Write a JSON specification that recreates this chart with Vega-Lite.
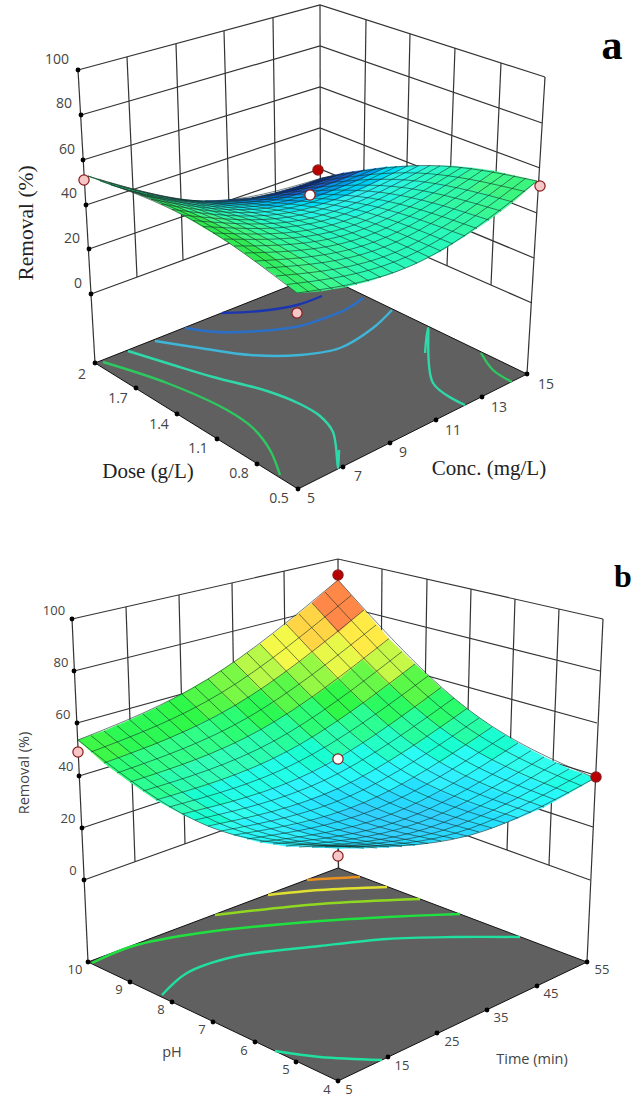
{"$schema":"https://vega.github.io/schema/vega-lite/v6.json","width":639,"height":1101,"padding":0,"autosize":"none","background":"white","config":{"view":{"stroke":null}},"resolve":{"scale":{"fill":"independent","stroke":"independent"}},
"datasets":{
"walls":[
{"l":"a0","x":78,"y":70},{"l":"a0","x":320,"y":5},{"l":"a0","x":545,"y":77},
{"l":"a1","x":81,"y":115},{"l":"a1","x":320,"y":46},{"l":"a1","x":542,"y":123},
{"l":"a2","x":83,"y":160},{"l":"a2","x":320,"y":87},{"l":"a2","x":540,"y":168},
{"l":"a3","x":86,"y":205},{"l":"a3","x":320,"y":128},{"l":"a3","x":537,"y":213},
{"l":"a4","x":89,"y":249},{"l":"a4","x":320,"y":169},{"l":"a4","x":534,"y":258},
{"l":"a5","x":91,"y":294},{"l":"a5","x":320,"y":210},{"l":"a5","x":532,"y":303},
{"l":"a6","x":78,"y":70},{"l":"a6","x":95,"y":363},
{"l":"a7","x":545,"y":77},{"l":"a7","x":527,"y":374},
{"l":"a8","x":320,"y":5},{"l":"a8","x":320.5,"y":274},
{"l":"a9","x":127,"y":57},{"l":"a9","x":137,"y":277},
{"l":"a10","x":176,"y":44},{"l":"a10","x":183,"y":260},
{"l":"a11","x":224,"y":31},{"l":"a11","x":230,"y":243},
{"l":"a12","x":273,"y":18},{"l":"a12","x":276,"y":226},
{"l":"a13","x":366,"y":20},{"l":"a13","x":363,"y":229},
{"l":"a14","x":410,"y":34},{"l":"a14","x":405,"y":247},
{"l":"a15","x":455,"y":48},{"l":"a15","x":447,"y":266},
{"l":"a16","x":501,"y":63},{"l":"a16","x":491,"y":285},
{"l":"b0","x":72,"y":619},{"l":"b0","x":338,"y":559},{"l":"b0","x":603,"y":619},
{"l":"b1","x":74,"y":671},{"l":"b1","x":338,"y":605},{"l":"b1","x":600,"y":671},
{"l":"b2","x":77,"y":723},{"l":"b2","x":338,"y":651},{"l":"b2","x":597,"y":723},
{"l":"b3","x":79,"y":776},{"l":"b3","x":338,"y":697},{"l":"b3","x":595,"y":775},
{"l":"b4","x":82,"y":828},{"l":"b4","x":338,"y":743},{"l":"b4","x":593,"y":827},
{"l":"b5","x":84,"y":880},{"l":"b5","x":338,"y":789},{"l":"b5","x":590,"y":880},
{"l":"b6","x":72,"y":619},{"l":"b6","x":88,"y":962},
{"l":"b7","x":603,"y":619},{"l":"b7","x":587,"y":962},
{"l":"b8","x":338,"y":559},{"l":"b8","x":338.5,"y":868},
{"l":"b9","x":126,"y":607},{"l":"b9","x":135,"y":862},
{"l":"b10","x":179,"y":595},{"l":"b10","x":185,"y":844},
{"l":"b11","x":232,"y":583},{"l":"b11","x":236,"y":826},
{"l":"b12","x":284,"y":571},{"l":"b12","x":287,"y":807},
{"l":"b13","x":382,"y":569},{"l":"b13","x":380,"y":804},
{"l":"b14","x":427,"y":579},{"l":"b14","x":423,"y":820},
{"l":"b15","x":471,"y":589},{"l":"b15","x":465,"y":835},
{"l":"b16","x":515,"y":599},{"l":"b16","x":507,"y":850},
{"l":"b17","x":559,"y":609},{"l":"b17","x":549,"y":865},
{"l":"s1","x":297,"y":293},{"l":"s1","x":297.5,"y":313},
{"l":"s2","x":338,"y":848},{"l":"s2","x":338.5,"y":868},
{"l":"s3","x":338,"y":759},{"l":"s3","x":338.5,"y":790}
],
"contours":[
{"l":"a1","c":"k1","x":222,"y":313},{"l":"a1","c":"k1","x":260,"y":311},{"l":"a1","c":"k1","x":297,"y":305},{"l":"a1","c":"k1","x":322,"y":296},
{"l":"a2","c":"k2","x":185,"y":328},{"l":"a2","c":"k2","x":217,"y":332},{"l":"a2","c":"k2","x":260,"y":331},{"l":"a2","c":"k2","x":300,"y":326},{"l":"a2","c":"k2","x":325,"y":318},{"l":"a2","c":"k2","x":347,"y":309},{"l":"a2","c":"k2","x":363,"y":298},
{"l":"a3","c":"k3","x":155,"y":341},{"l":"a3","c":"k3","x":200,"y":348},{"l":"a3","c":"k3","x":250,"y":355},{"l":"a3","c":"k3","x":300,"y":355},{"l":"a3","c":"k3","x":340,"y":348},{"l":"a3","c":"k3","x":373,"y":328},{"l":"a3","c":"k3","x":392,"y":310},
{"l":"a4","c":"k4","x":128,"y":351},{"l":"a4","c":"k4","x":170,"y":364},{"l":"a4","c":"k4","x":213,"y":377},{"l":"a4","c":"k4","x":267,"y":391},{"l":"a4","c":"k4","x":300,"y":404},{"l":"a4","c":"k4","x":320,"y":416},{"l":"a4","c":"k4","x":333,"y":432},{"l":"a4","c":"k4","x":339,"y":450},{"l":"a4","c":"k4","x":338,"y":468},
{"l":"a5","c":"k4","x":428,"y":328},{"l":"a5","c":"k4","x":425,"y":353},{"l":"a5","c":"k4","x":433,"y":383},{"l":"a5","c":"k4","x":465,"y":405},
{"l":"a6","c":"k5","x":103,"y":362},{"l":"a6","c":"k5","x":167,"y":383},{"l":"a6","c":"k5","x":227,"y":410},{"l":"a6","c":"k5","x":253,"y":428},{"l":"a6","c":"k5","x":270,"y":450},{"l":"a6","c":"k5","x":280,"y":475},
{"l":"a7","c":"k5","x":481,"y":353},{"l":"a7","c":"k5","x":493,"y":370},{"l":"a7","c":"k5","x":512,"y":382},
{"l":"b1","c":"k6","x":307,"y":880},{"l":"b1","c":"k6","x":320,"y":879},{"l":"b1","c":"k6","x":360,"y":877},
{"l":"b2","c":"k7","x":268,"y":895},{"l":"b2","c":"k7","x":320,"y":890},{"l":"b2","c":"k7","x":387,"y":887},
{"l":"b3","c":"k8","x":215,"y":915},{"l":"b3","c":"k8","x":320,"y":904},{"l":"b3","c":"k8","x":420,"y":899},
{"l":"b4","c":"k9","x":92,"y":963},{"l":"b4","c":"k9","x":133,"y":946},{"l":"b4","c":"k9","x":200,"y":933},{"l":"b4","c":"k9","x":320,"y":921},{"l":"b4","c":"k9","x":387,"y":917},{"l":"b4","c":"k9","x":460,"y":914},
{"l":"b5","c":"k10","x":162,"y":995},{"l":"b5","c":"k10","x":187,"y":973},{"l":"b5","c":"k10","x":233,"y":957},{"l":"b5","c":"k10","x":320,"y":946},{"l":"b5","c":"k10","x":387,"y":939},{"l":"b5","c":"k10","x":453,"y":937},{"l":"b5","c":"k10","x":520,"y":937},
{"l":"b6","c":"k10","x":275,"y":1051},{"l":"b6","c":"k10","x":320,"y":1057},{"l":"b6","c":"k10","x":382,"y":1060}
],
"grid":[
{"l":"p0","x":297,"y":293},{"l":"p0","x":193,"y":220.5},{"l":"p0","x":88,"y":176},
{"l":"p1","x":309,"y":292},{"l":"p1","x":204,"y":222.5},{"l":"p1","x":100,"y":181},
{"l":"p2","x":321,"y":291},{"l":"p2","x":216,"y":224},{"l":"p2","x":111,"y":185},
{"l":"p3","x":333,"y":289.5},{"l":"p3","x":228,"y":225},{"l":"p3","x":123,"y":188.5},
{"l":"p4","x":345,"y":287},{"l":"p4","x":240,"y":225.5},{"l":"p4","x":135,"y":192},
{"l":"p5","x":357,"y":284.5},{"l":"p5","x":252,"y":225.5},{"l":"p5","x":147,"y":194.5},
{"l":"p6","x":369,"y":281},{"l":"p6","x":264,"y":225},{"l":"p6","x":158,"y":197},
{"l":"p7","x":381,"y":277.5},{"l":"p7","x":275,"y":224},{"l":"p7","x":170,"y":198.5},
{"l":"p8","x":393,"y":273},{"l":"p8","x":287,"y":222.5},{"l":"p8","x":182,"y":200},
{"l":"p9","x":405,"y":268},{"l":"p9","x":299,"y":220.5},{"l":"p9","x":193,"y":200.7},
{"l":"p10","x":417,"y":263},{"l":"p10","x":311,"y":218},{"l":"p10","x":205,"y":201},
{"l":"p11","x":429,"y":257},{"l":"p11","x":323,"y":215},{"l":"p11","x":217,"y":201},
{"l":"p12","x":441,"y":251},{"l":"p12","x":335,"y":211.5},{"l":"p12","x":228,"y":200},
{"l":"p13","x":453,"y":244},{"l":"p13","x":347,"y":207.5},{"l":"p13","x":240,"y":199},
{"l":"p14","x":465,"y":236},{"l":"p14","x":358,"y":203},{"l":"p14","x":252,"y":197.6},
{"l":"p15","x":477,"y":228.5},{"l":"p15","x":370,"y":198},{"l":"p15","x":264,"y":195.5},
{"l":"p16","x":489,"y":220},{"l":"p16","x":382,"y":192.5},{"l":"p16","x":275,"y":193},
{"l":"p17","x":501,"y":211},{"l":"p17","x":394,"y":186.5},{"l":"p17","x":287,"y":190},
{"l":"p18","x":513,"y":202},{"l":"p18","x":406,"y":180},{"l":"p18","x":299,"y":186.4},
{"l":"p19","x":525,"y":191.5},{"l":"p19","x":418,"y":173},{"l":"p19","x":310,"y":182.5},
{"l":"p20","x":537,"y":181},{"l":"p20","x":430,"y":165.5},{"l":"p20","x":322,"y":178},
{"l":"q0","x":297,"y":293},{"l":"q0","x":417,"y":263},{"l":"q0","x":537,"y":181},
{"l":"q1","x":287,"y":284.5},{"l":"q1","x":406,"y":257},{"l":"q1","x":526,"y":178},
{"l":"q2","x":276,"y":276},{"l":"q2","x":396,"y":252},{"l":"q2","x":515,"y":175.7},
{"l":"q3","x":266,"y":268},{"l":"q3","x":385,"y":246.6},{"l":"q3","x":505,"y":173.4},
{"l":"q4","x":255,"y":261},{"l":"q4","x":375,"y":241.6},{"l":"q4","x":494,"y":171.4},
{"l":"q5","x":245,"y":253},{"l":"q5","x":364,"y":237},{"l":"q5","x":483,"y":169.8},
{"l":"q6","x":234,"y":246},{"l":"q6","x":353,"y":232.6},{"l":"q6","x":472,"y":168.3},
{"l":"q7","x":224,"y":239},{"l":"q7","x":343,"y":228.6},{"l":"q7","x":462,"y":167.2},
{"l":"q8","x":213,"y":233},{"l":"q8","x":332,"y":224.8},{"l":"q8","x":451,"y":166.4},
{"l":"q9","x":203,"y":226.5},{"l":"q9","x":322,"y":221},{"l":"q9","x":440,"y":165.8},
{"l":"q10","x":193,"y":220.5},{"l":"q10","x":311,"y":218},{"l":"q10","x":430,"y":165.5},
{"l":"q11","x":182,"y":215},{"l":"q11","x":300,"y":215},{"l":"q11","x":419,"y":165.5},
{"l":"q12","x":172,"y":209.4},{"l":"q12","x":290,"y":212.4},{"l":"q12","x":408,"y":165.8},
{"l":"q13","x":161,"y":204},{"l":"q13","x":279,"y":210},{"l":"q13","x":397,"y":166.3},
{"l":"q14","x":151,"y":199.3},{"l":"q14","x":269,"y":207.8},{"l":"q14","x":387,"y":167},
{"l":"q15","x":140,"y":194.8},{"l":"q15","x":258,"y":206},{"l":"q15","x":376,"y":168.3},
{"l":"q16","x":130,"y":190.4},{"l":"q16","x":247,"y":204.4},{"l":"q16","x":365,"y":169.6},
{"l":"q17","x":119,"y":186.4},{"l":"q17","x":237,"y":203.2},{"l":"q17","x":354,"y":171.3},
{"l":"q18","x":109,"y":182.7},{"l":"q18","x":226,"y":202.2},{"l":"q18","x":344,"y":173.3},
{"l":"q19","x":98,"y":179},{"l":"q19","x":216,"y":201.4},{"l":"q19","x":333,"y":175.5},
{"l":"q20","x":88,"y":176},{"l":"q20","x":205,"y":201},{"l":"q20","x":322,"y":178},
{"l":"r0","x":338,"y":846},{"l":"r0","x":208,"y":826},{"l":"r0","x":78,"y":740},
{"l":"r1","x":351,"y":847},{"l":"r1","x":221,"y":824},{"l":"r1","x":91,"y":735.6},
{"l":"r2","x":364,"y":848},{"l":"r2","x":234,"y":822},{"l":"r2","x":104,"y":731},
{"l":"r3","x":377,"y":848},{"l":"r3","x":247,"y":819},{"l":"r3","x":117,"y":725.7},
{"l":"r4","x":389,"y":847},{"l":"r4","x":260,"y":816},{"l":"r4","x":130,"y":720},
{"l":"r5","x":402,"y":846.6},{"l":"r5","x":273,"y":812.6},{"l":"r5","x":143,"y":714},
{"l":"r6","x":415,"y":845},{"l":"r6","x":286,"y":809},{"l":"r6","x":156,"y":708},
{"l":"r7","x":428,"y":843.6},{"l":"r7","x":298,"y":804},{"l":"r7","x":169,"y":701},
{"l":"r8","x":441,"y":841},{"l":"r8","x":311,"y":799},{"l":"r8","x":182,"y":694},
{"l":"r9","x":454,"y":838.7},{"l":"r9","x":324,"y":794},{"l":"r9","x":195,"y":687},
{"l":"r10","x":467,"y":836},{"l":"r10","x":337,"y":788.5},{"l":"r10","x":208,"y":679},
{"l":"r11","x":479,"y":832},{"l":"r11","x":350,"y":782},{"l":"r11","x":221,"y":671},
{"l":"r12","x":492,"y":828},{"l":"r12","x":363,"y":776},{"l":"r12","x":234,"y":662},
{"l":"r13","x":505,"y":823},{"l":"r13","x":376,"y":769},{"l":"r13","x":247,"y":653},
{"l":"r14","x":518,"y":818},{"l":"r14","x":389,"y":762},{"l":"r14","x":260,"y":644},
{"l":"r15","x":531,"y":812.6},{"l":"r15","x":402,"y":754},{"l":"r15","x":273,"y":634},
{"l":"r16","x":544,"y":807},{"l":"r16","x":415,"y":746},{"l":"r16","x":286,"y":624},
{"l":"r17","x":556,"y":800},{"l":"r17","x":428,"y":737},{"l":"r17","x":299,"y":614},
{"l":"r18","x":569,"y":793},{"l":"r18","x":441,"y":728},{"l":"r18","x":312,"y":603},
{"l":"r19","x":582,"y":786},{"l":"r19","x":454,"y":718},{"l":"r19","x":325,"y":592},
{"l":"r20","x":595,"y":778},{"l":"r20","x":467,"y":708.5},{"l":"r20","x":338,"y":580},
{"l":"t0","x":338,"y":846},{"l":"t0","x":467,"y":836},{"l":"t0","x":595,"y":778},
{"l":"t1","x":325,"y":847},{"l":"t1","x":454,"y":833.6},{"l":"t1","x":582,"y":773.7},
{"l":"t2","x":312,"y":847},{"l":"t2","x":441,"y":831},{"l":"t2","x":569,"y":769},
{"l":"t3","x":299,"y":847},{"l":"t3","x":428,"y":828},{"l":"t3","x":556,"y":763},
{"l":"t4","x":286,"y":846},{"l":"t4","x":415,"y":824},{"l":"t4","x":544,"y":757},
{"l":"t5","x":273,"y":844},{"l":"t5","x":402,"y":820},{"l":"t5","x":531,"y":750.6},
{"l":"t6","x":260,"y":842},{"l":"t6","x":389,"y":815},{"l":"t6","x":518,"y":743},
{"l":"t7","x":247,"y":839},{"l":"t7","x":376,"y":809},{"l":"t7","x":505,"y":735.5},
{"l":"t8","x":234,"y":835},{"l":"t8","x":363,"y":803},{"l":"t8","x":492,"y":727},
{"l":"t9","x":221,"y":831},{"l":"t9","x":350,"y":796},{"l":"t9","x":479,"y":718},
{"l":"t10","x":208,"y":826},{"l":"t10","x":338,"y":788.5},{"l":"t10","x":467,"y":708.5},
{"l":"t11","x":195,"y":820},{"l":"t11","x":325,"y":780},{"l":"t11","x":454,"y":698},
{"l":"t12","x":182,"y":814},{"l":"t12","x":312,"y":772},{"l":"t12","x":441,"y":687.5},
{"l":"t13","x":169,"y":807},{"l":"t13","x":298,"y":762},{"l":"t13","x":428,"y":676},
{"l":"t14","x":156,"y":800},{"l":"t14","x":286,"y":752},{"l":"t14","x":415,"y":664},
{"l":"t15","x":143,"y":791},{"l":"t15","x":273,"y":741.5},{"l":"t15","x":402,"y":651.6},
{"l":"t16","x":130,"y":782},{"l":"t16","x":260,"y":730},{"l":"t16","x":389,"y":638.5},
{"l":"t17","x":117,"y":773},{"l":"t17","x":247,"y":718},{"l":"t17","x":376,"y":625},
{"l":"t18","x":104,"y":763},{"l":"t18","x":234,"y":706},{"l":"t18","x":364,"y":610},
{"l":"t19","x":91,"y":752},{"l":"t19","x":221,"y":693},{"l":"t19","x":351,"y":595.5},
{"l":"t20","x":78,"y":740},{"l":"t20","x":208,"y":679},{"l":"t20","x":338,"y":580}
],
"ticks":[
{"x":78,"y":70},{"x":81,"y":115},{"x":83,"y":160},{"x":86,"y":205},{"x":89,"y":249},{"x":91,"y":294},
{"x":95,"y":363},{"x":136,"y":388},{"x":177,"y":414},{"x":217,"y":439},{"x":257,"y":464},{"x":298,"y":489},
{"x":343,"y":467},{"x":390,"y":443},{"x":436,"y":420},{"x":482,"y":397},{"x":527,"y":374},
{"x":72,"y":619},{"x":74,"y":671},{"x":77,"y":723},{"x":79,"y":776},{"x":82,"y":828},{"x":84,"y":880},
{"x":88,"y":962},{"x":130,"y":982},{"x":172,"y":1002},{"x":213,"y":1022},{"x":255,"y":1042},{"x":296,"y":1062},{"x":338,"y":1081},
{"x":388,"y":1057},{"x":437,"y":1033},{"x":487,"y":1010},{"x":537,"y":986},{"x":587,"y":962}
],
"dots":[
{"x":84,"y":180,"k":"low"},{"x":318,"y":170,"k":"high"},{"x":310,"y":195,"k":"centre"},{"x":297,"y":313,"k":"low"},{"x":540,"y":186,"k":"low"},
{"x":78,"y":752,"k":"low"},{"x":338,"y":575,"k":"high"},{"x":596,"y":777,"k":"high"},{"x":338,"y":759,"k":"centre"},{"x":338,"y":856,"k":"low"}
]
},
"layer":[
{"data":{"name":"walls"},"mark":{"type":"line","color":"#333333","strokeWidth":1.2},"encoding":{"x":{"field":"x","type":"quantitative","scale":{"domain":[0,639],"nice":false,"zero":false},"axis":null},"y":{"field":"y","type":"quantitative","scale":{"domain":[1101,0],"nice":false,"zero":false},"axis":null},"detail":{"field":"l"},"order":{"value":1}}},
{"data":{"values":[{"panel":"a","type":"Polygon","coordinates":[[[95,363],[320,274],[527,374],[298,489],[95,363]]]},{"panel":"b","type":"Polygon","coordinates":[[[88,962],[338,868],[587,962],[338,1081],[88,962]]]}]},"mark":{"type":"geoshape","fill":"#606060","stroke":"#111111","strokeWidth":1},"projection":{"type":"identity","scale":1,"translate":[0,0]}},
{"data":{"name":"contours"},"mark":{"type":"line","interpolate":"catmull-rom","strokeWidth":2.4},"encoding":{"x":{"field":"x","type":"quantitative","scale":{"domain":[0,639],"nice":false,"zero":false},"axis":null},"y":{"field":"y","type":"quantitative","scale":{"domain":[1101,0],"nice":false,"zero":false},"axis":null},"detail":{"field":"l"},"order":{"value":1},"stroke":{"field":"c","type":"nominal","legend":null,"scale":{"domain":["k1","k2","k3","k4","k5","k6","k7","k8","k9","k10"],"range":["#1a35b0","#2a70c8","#3fb6d8","#2fd8a8","#2dc860","#e89020","#e0e030","#90d820","#20e040","#20e0a0"]}}}},
{"data":{"values":[
{"v":17,"type":"Polygon","coordinates":[[[320,183],[344,173],[322,178],[299,186],[320,183]]]},
{"v":17,"type":"Polygon","coordinates":[[[297,191],[320,183],[299,186],[275,193],[297,191]]]},
{"v":18,"type":"Polygon","coordinates":[[[273,196],[297,191],[275,193],[252,198],[273,196]]]},
{"v":20,"type":"Polygon","coordinates":[[[250,200],[273,196],[252,198],[228,200],[250,200]]]},
{"v":23,"type":"Polygon","coordinates":[[[226,202],[250,200],[228,200],[205,201],[226,202]]]},
{"v":27,"type":"Polygon","coordinates":[[[203,202],[226,202],[205,201],[182,200],[203,202]]]},
{"v":31,"type":"Polygon","coordinates":[[[179,200],[203,202],[182,200],[158,197],[179,200]]]},
{"v":37,"type":"Polygon","coordinates":[[[156,196],[179,200],[158,197],[135,192],[156,196]]]},
{"v":43,"type":"Polygon","coordinates":[[[132,190],[156,196],[135,192],[111,185],[132,190]]]},
{"v":50,"type":"Polygon","coordinates":[[[109,183],[132,190],[111,185],[88,176],[109,183]]]},
{"v":23,"type":"Polygon","coordinates":[[[341,181],[365,170],[344,173],[320,183],[341,181]]]},
{"v":23,"type":"Polygon","coordinates":[[[318,189],[341,181],[320,183],[297,191],[318,189]]]},
{"v":23,"type":"Polygon","coordinates":[[[294,196],[318,189],[297,191],[273,196],[294,196]]]},
{"v":25,"type":"Polygon","coordinates":[[[271,201],[294,196],[273,196],[250,200],[271,201]]]},
{"v":27,"type":"Polygon","coordinates":[[[247,204],[271,201],[250,200],[226,202],[247,204]]]},
{"v":31,"type":"Polygon","coordinates":[[[224,206],[247,204],[226,202],[203,202],[224,206]]]},
{"v":35,"type":"Polygon","coordinates":[[[200,205],[224,206],[203,202],[179,200],[200,205]]]},
{"v":40,"type":"Polygon","coordinates":[[[177,202],[200,205],[179,200],[156,196],[177,202]]]},
{"v":46,"type":"Polygon","coordinates":[[[153,197],[177,202],[156,196],[132,190],[153,197]]]},
{"v":52,"type":"Polygon","coordinates":[[[130,190],[153,197],[132,190],[109,183],[130,190]]]},
{"v":28,"type":"Polygon","coordinates":[[[363,179],[387,167],[365,170],[341,181],[363,179]]]},
{"v":28,"type":"Polygon","coordinates":[[[339,189],[363,179],[341,181],[318,189],[339,189]]]},
{"v":28,"type":"Polygon","coordinates":[[[316,198],[339,189],[318,189],[294,196],[316,198]]]},
{"v":29,"type":"Polygon","coordinates":[[[292,204],[316,198],[294,196],[271,201],[292,204]]]},
{"v":31,"type":"Polygon","coordinates":[[[269,208],[292,204],[271,201],[247,204],[269,208]]]},
{"v":34,"type":"Polygon","coordinates":[[[245,210],[269,208],[247,204],[224,206],[245,210]]]},
{"v":38,"type":"Polygon","coordinates":[[[221,210],[245,210],[224,206],[200,205],[221,210]]]},
{"v":42,"type":"Polygon","coordinates":[[[198,209],[221,210],[200,205],[177,202],[198,209]]]},
{"v":48,"type":"Polygon","coordinates":[[[174,205],[198,209],[177,202],[153,197],[174,205]]]},
{"v":54,"type":"Polygon","coordinates":[[[151,199],[174,205],[153,197],[130,190],[151,199]]]},
{"v":33,"type":"Polygon","coordinates":[[[384,179],[408,166],[387,167],[363,179],[384,179]]]},
{"v":32,"type":"Polygon","coordinates":[[[361,190],[384,179],[363,179],[339,189],[361,190]]]},
{"v":32,"type":"Polygon","coordinates":[[[337,200],[361,190],[339,189],[316,198],[337,200]]]},
{"v":33,"type":"Polygon","coordinates":[[[313,207],[337,200],[316,198],[292,204],[313,207]]]},
{"v":34,"type":"Polygon","coordinates":[[[290,212],[313,207],[292,204],[269,208],[290,212]]]},
{"v":37,"type":"Polygon","coordinates":[[[266,216],[290,212],[269,208],[245,210],[266,216]]]},
{"v":40,"type":"Polygon","coordinates":[[[243,217],[266,216],[245,210],[221,210],[243,217]]]},
{"v":44,"type":"Polygon","coordinates":[[[219,217],[243,217],[221,210],[198,209],[219,217]]]},
{"v":49,"type":"Polygon","coordinates":[[[195,214],[219,217],[198,209],[174,205],[195,214]]]},
{"v":55,"type":"Polygon","coordinates":[[[172,209],[195,214],[174,205],[151,199],[172,209]]]},
{"v":37,"type":"Polygon","coordinates":[[[406,180],[430,166],[408,166],[384,179],[406,180]]]},
{"v":36,"type":"Polygon","coordinates":[[[382,193],[406,180],[384,179],[361,190],[382,193]]]},
{"v":35,"type":"Polygon","coordinates":[[[358,203],[382,193],[361,190],[337,200],[358,203]]]},
{"v":36,"type":"Polygon","coordinates":[[[335,212],[358,203],[337,200],[313,207],[335,212]]]},
{"v":37,"type":"Polygon","coordinates":[[[311,218],[335,212],[313,207],[290,212],[311,218]]]},
{"v":39,"type":"Polygon","coordinates":[[[287,223],[311,218],[290,212],[266,216],[287,223]]]},
{"v":42,"type":"Polygon","coordinates":[[[264,225],[287,223],[266,216],[243,217],[264,225]]]},
{"v":46,"type":"Polygon","coordinates":[[[240,226],[264,225],[243,217],[219,217],[240,226]]]},
{"v":50,"type":"Polygon","coordinates":[[[216,224],[240,226],[219,217],[195,214],[216,224]]]},
{"v":56,"type":"Polygon","coordinates":[[[193,221],[216,224],[195,214],[172,209],[193,221]]]},
{"v":41,"type":"Polygon","coordinates":[[[427,182],[451,166],[430,166],[406,180],[427,182]]]},
{"v":39,"type":"Polygon","coordinates":[[[403,196],[427,182],[406,180],[382,193],[403,196]]]},
{"v":38,"type":"Polygon","coordinates":[[[380,208],[403,196],[382,193],[358,203],[380,208]]]},
{"v":38,"type":"Polygon","coordinates":[[[356,217],[380,208],[358,203],[335,212],[356,217]]]},
{"v":39,"type":"Polygon","coordinates":[[[332,225],[356,217],[335,212],[311,218],[332,225]]]},
{"v":41,"type":"Polygon","coordinates":[[[308,230],[332,225],[311,218],[287,223],[308,230]]]},
{"v":43,"type":"Polygon","coordinates":[[[285,234],[308,230],[287,223],[264,225],[285,234]]]},
{"v":47,"type":"Polygon","coordinates":[[[261,236],[285,234],[264,225],[240,226],[261,236]]]},
{"v":51,"type":"Polygon","coordinates":[[[237,235],[261,236],[240,226],[216,224],[237,235]]]},
{"v":56,"type":"Polygon","coordinates":[[[213,233],[237,235],[216,224],[193,221],[213,233]]]},
{"v":44,"type":"Polygon","coordinates":[[[449,185],[472,168],[451,166],[427,182],[449,185]]]},
{"v":42,"type":"Polygon","coordinates":[[[425,200],[449,185],[427,182],[403,196],[425,200]]]},
{"v":41,"type":"Polygon","coordinates":[[[401,213],[425,200],[403,196],[380,208],[401,213]]]},
{"v":40,"type":"Polygon","coordinates":[[[377,224],[401,213],[380,208],[356,217],[377,224]]]},
{"v":41,"type":"Polygon","coordinates":[[[353,233],[377,224],[356,217],[332,225],[353,233]]]},
{"v":42,"type":"Polygon","coordinates":[[[330,239],[353,233],[332,225],[308,230],[330,239]]]},
{"v":44,"type":"Polygon","coordinates":[[[306,244],[330,239],[308,230],[285,234],[306,244]]]},
{"v":47,"type":"Polygon","coordinates":[[[282,247],[306,244],[285,234],[261,236],[282,247]]]},
{"v":51,"type":"Polygon","coordinates":[[[258,248],[282,247],[261,236],[237,235],[258,248]]]},
{"v":56,"type":"Polygon","coordinates":[[[234,246],[258,248],[237,235],[213,233],[234,246]]]},
{"v":47,"type":"Polygon","coordinates":[[[470,190],[494,171],[472,168],[449,185],[470,190]]]},
{"v":45,"type":"Polygon","coordinates":[[[446,206],[470,190],[449,185],[425,200],[446,206]]]},
{"v":43,"type":"Polygon","coordinates":[[[422,220],[446,206],[425,200],[401,213],[422,220]]]},
{"v":42,"type":"Polygon","coordinates":[[[398,232],[422,220],[401,213],[377,224],[398,232]]]},
{"v":42,"type":"Polygon","coordinates":[[[375,242],[398,232],[377,224],[353,233],[375,242]]]},
{"v":43,"type":"Polygon","coordinates":[[[351,250],[375,242],[353,233],[330,239],[351,250]]]},
{"v":45,"type":"Polygon","coordinates":[[[327,255],[351,250],[330,239],[306,244],[327,255]]]},
{"v":47,"type":"Polygon","coordinates":[[[303,259],[327,255],[306,244],[282,247],[303,259]]]},
{"v":51,"type":"Polygon","coordinates":[[[279,261],[303,259],[282,247],[258,248],[279,261]]]},
{"v":56,"type":"Polygon","coordinates":[[[255,261],[279,261],[258,248],[234,246],[255,261]]]},
{"v":50,"type":"Polygon","coordinates":[[[492,195],[515,176],[494,171],[470,190],[492,195]]]},
{"v":46,"type":"Polygon","coordinates":[[[468,212],[492,195],[470,190],[446,206],[468,212]]]},
{"v":44,"type":"Polygon","coordinates":[[[444,228],[468,212],[446,206],[422,220],[444,228]]]},
{"v":43,"type":"Polygon","coordinates":[[[420,241],[444,228],[422,220],[398,232],[420,241]]]},
{"v":43,"type":"Polygon","coordinates":[[[396,252],[420,241],[398,232],[375,242],[396,252]]]},
{"v":43,"type":"Polygon","coordinates":[[[372,261],[396,252],[375,242],[351,250],[372,261]]]},
{"v":45,"type":"Polygon","coordinates":[[[348,268],[372,261],[351,250],[327,255],[348,268]]]},
{"v":47,"type":"Polygon","coordinates":[[[324,273],[348,268],[327,255],[303,259],[324,273]]]},
{"v":50,"type":"Polygon","coordinates":[[[300,276],[324,273],[303,259],[279,261],[300,276]]]},
{"v":54,"type":"Polygon","coordinates":[[[276,276],[300,276],[279,261],[255,261],[276,276]]]},
{"v":51,"type":"Polygon","coordinates":[[[513,202],[537,181],[515,176],[492,195],[513,202]]]},
{"v":48,"type":"Polygon","coordinates":[[[489,220],[513,202],[492,195],[468,212],[489,220]]]},
{"v":45,"type":"Polygon","coordinates":[[[465,236],[489,220],[468,212],[444,228],[465,236]]]},
{"v":43,"type":"Polygon","coordinates":[[[441,251],[465,236],[444,228],[420,241],[441,251]]]},
{"v":43,"type":"Polygon","coordinates":[[[417,263],[441,251],[420,241],[396,252],[417,263]]]},
{"v":43,"type":"Polygon","coordinates":[[[393,273],[417,263],[396,252],[372,261],[393,273]]]},
{"v":44,"type":"Polygon","coordinates":[[[369,281],[393,273],[372,261],[348,268],[369,281]]]},
{"v":46,"type":"Polygon","coordinates":[[[345,287],[369,281],[348,268],[324,273],[345,287]]]},
{"v":49,"type":"Polygon","coordinates":[[[321,291],[345,287],[324,273],[300,276],[321,291]]]},
{"v":53,"type":"Polygon","coordinates":[[[297,293],[321,291],[300,276],[276,276],[297,293]]]}
]},"mark":{"type":"geoshape","strokeWidth":0.6},"projection":{"type":"identity","scale":1,"translate":[0,0]},"encoding":{"fill":{"field":"v","type":"quantitative","legend":null,"scale":{"domain":[17,24,30,35,40,45,50,56],"range":["#0c2a9a","#1f5fd0","#20b8f0","#30f0f0","#30f8d0","#30f8a8","#40f888","#30e850"]}},"stroke":{"field":"v","type":"quantitative","legend":null,"scale":{"domain":[17,24,30,35,40,45,50,56],"range":["#0c2a9a","#1f5fd0","#20b8f0","#30f0f0","#30f8d0","#30f8a8","#40f888","#30e850"]}}}},
{"data":{"values":[
{"v":83,"type":"Polygon","coordinates":[[[338,633],[364,610],[338,580],[312,603],[338,633]]]},
{"v":73,"type":"Polygon","coordinates":[[[312,653],[338,633],[312,603],[286,624],[312,653]]]},
{"v":65,"type":"Polygon","coordinates":[[[286,672],[312,653],[286,624],[260,644],[286,672]]]},
{"v":58,"type":"Polygon","coordinates":[[[260,690],[286,672],[260,644],[234,662],[260,690]]]},
{"v":53,"type":"Polygon","coordinates":[[[234,706],[260,690],[234,662],[208,679],[234,706]]]},
{"v":49,"type":"Polygon","coordinates":[[[208,720],[234,706],[208,679],[182,694],[208,720]]]},
{"v":46,"type":"Polygon","coordinates":[[[182,733],[208,720],[182,694],[156,708],[182,733]]]},
{"v":45,"type":"Polygon","coordinates":[[[156,745],[182,733],[156,708],[130,720],[156,745]]]},
{"v":45,"type":"Polygon","coordinates":[[[130,754],[156,745],[130,720],[104,731],[130,754]]]},
{"v":47,"type":"Polygon","coordinates":[[[104,763],[130,754],[104,731],[78,740],[104,763]]]},
{"v":70,"type":"Polygon","coordinates":[[[363,660],[389,639],[364,610],[338,633],[363,660]]]},
{"v":62,"type":"Polygon","coordinates":[[[338,680],[363,660],[338,633],[312,653],[338,680]]]},
{"v":55,"type":"Polygon","coordinates":[[[312,698],[338,680],[312,653],[286,672],[312,698]]]},
{"v":50,"type":"Polygon","coordinates":[[[286,715],[312,698],[286,672],[260,690],[286,715]]]},
{"v":45,"type":"Polygon","coordinates":[[[260,730],[286,715],[260,690],[234,706],[260,730]]]},
{"v":42,"type":"Polygon","coordinates":[[[234,744],[260,730],[234,706],[208,720],[234,744]]]},
{"v":40,"type":"Polygon","coordinates":[[[208,756],[234,744],[208,720],[182,733],[208,756]]]},
{"v":40,"type":"Polygon","coordinates":[[[182,766],[208,756],[182,733],[156,745],[182,766]]]},
{"v":40,"type":"Polygon","coordinates":[[[156,775],[182,766],[156,745],[130,754],[156,775]]]},
{"v":42,"type":"Polygon","coordinates":[[[130,782],[156,775],[130,754],[104,763],[130,782]]]},
{"v":59,"type":"Polygon","coordinates":[[[389,685],[415,664],[389,639],[363,660],[389,685]]]},
{"v":52,"type":"Polygon","coordinates":[[[363,704],[389,685],[363,660],[338,680],[363,704]]]},
{"v":46,"type":"Polygon","coordinates":[[[337,722],[363,704],[338,680],[312,698],[337,722]]]},
{"v":42,"type":"Polygon","coordinates":[[[311,738],[337,722],[312,698],[286,715],[311,738]]]},
{"v":38,"type":"Polygon","coordinates":[[[286,752],[311,738],[286,715],[260,730],[286,752]]]},
{"v":36,"type":"Polygon","coordinates":[[[260,765],[286,752],[260,730],[234,744],[260,765]]]},
{"v":35,"type":"Polygon","coordinates":[[[234,776],[260,765],[234,744],[208,756],[234,776]]]},
{"v":35,"type":"Polygon","coordinates":[[[208,786],[234,776],[208,756],[182,766],[208,786]]]},
{"v":36,"type":"Polygon","coordinates":[[[182,793],[208,786],[182,766],[156,775],[182,793]]]},
{"v":39,"type":"Polygon","coordinates":[[[156,800],[182,793],[156,775],[130,782],[156,800]]]},
{"v":50,"type":"Polygon","coordinates":[[[415,708],[441,688],[415,664],[389,685],[415,708]]]},
{"v":44,"type":"Polygon","coordinates":[[[389,726],[415,708],[389,685],[363,704],[389,726]]]},
{"v":39,"type":"Polygon","coordinates":[[[363,743],[389,726],[363,704],[337,722],[363,743]]]},
{"v":36,"type":"Polygon","coordinates":[[[337,758],[363,743],[337,722],[311,738],[337,758]]]},
{"v":33,"type":"Polygon","coordinates":[[[311,772],[337,758],[311,738],[286,752],[311,772]]]},
{"v":31,"type":"Polygon","coordinates":[[[286,783],[311,772],[286,752],[260,765],[286,783]]]},
{"v":31,"type":"Polygon","coordinates":[[[260,794],[286,783],[260,765],[234,776],[260,794]]]},
{"v":31,"type":"Polygon","coordinates":[[[234,802],[260,794],[234,776],[208,786],[234,802]]]},
{"v":33,"type":"Polygon","coordinates":[[[208,809],[234,802],[208,786],[182,793],[208,809]]]},
{"v":35,"type":"Polygon","coordinates":[[[182,814],[208,809],[182,793],[156,800],[182,814]]]},
{"v":43,"type":"Polygon","coordinates":[[[441,728],[467,709],[441,688],[415,708],[441,728]]]},
{"v":38,"type":"Polygon","coordinates":[[[415,746],[441,728],[415,708],[389,726],[415,746]]]},
{"v":34,"type":"Polygon","coordinates":[[[389,762],[415,746],[389,726],[363,743],[389,762]]]},
{"v":31,"type":"Polygon","coordinates":[[[363,776],[389,762],[363,743],[337,758],[363,776]]]},
{"v":28,"type":"Polygon","coordinates":[[[337,789],[363,776],[337,758],[311,772],[337,789]]]},
{"v":27,"type":"Polygon","coordinates":[[[311,799],[337,789],[311,772],[286,783],[311,799]]]},
{"v":27,"type":"Polygon","coordinates":[[[286,809],[311,799],[286,783],[260,794],[286,809]]]},
{"v":28,"type":"Polygon","coordinates":[[[260,816],[286,809],[260,794],[234,802],[260,816]]]},
{"v":30,"type":"Polygon","coordinates":[[[234,822],[260,816],[234,802],[208,809],[234,822]]]},
{"v":33,"type":"Polygon","coordinates":[[[208,826],[234,822],[208,809],[182,814],[208,826]]]},
{"v":37,"type":"Polygon","coordinates":[[[466,746],[492,727],[467,709],[441,728],[466,746]]]},
{"v":33,"type":"Polygon","coordinates":[[[441,763],[466,746],[441,728],[415,746],[441,763]]]},
{"v":29,"type":"Polygon","coordinates":[[[415,778],[441,763],[415,746],[389,762],[415,778]]]},
{"v":27,"type":"Polygon","coordinates":[[[389,791],[415,778],[389,762],[363,776],[389,791]]]},
{"v":25,"type":"Polygon","coordinates":[[[363,803],[389,791],[363,776],[337,789],[363,803]]]},
{"v":24,"type":"Polygon","coordinates":[[[337,813],[363,803],[337,789],[311,799],[337,813]]]},
{"v":25,"type":"Polygon","coordinates":[[[311,821],[337,813],[311,799],[286,809],[311,821]]]},
{"v":26,"type":"Polygon","coordinates":[[[286,828],[311,821],[286,809],[260,816],[286,828]]]},
{"v":27,"type":"Polygon","coordinates":[[[260,832],[286,828],[260,816],[234,822],[260,832]]]},
{"v":30,"type":"Polygon","coordinates":[[[234,835],[260,832],[234,822],[208,826],[234,835]]]},
{"v":33,"type":"Polygon","coordinates":[[[492,761],[518,743],[492,727],[466,746],[492,761]]]},
{"v":29,"type":"Polygon","coordinates":[[[466,777],[492,761],[466,746],[441,763],[466,777]]]},
{"v":26,"type":"Polygon","coordinates":[[[441,792],[466,777],[441,763],[415,778],[441,792]]]},
{"v":24,"type":"Polygon","coordinates":[[[415,804],[441,792],[415,778],[389,791],[415,804]]]},
{"v":23,"type":"Polygon","coordinates":[[[389,815],[415,804],[389,791],[363,803],[389,815]]]},
{"v":22,"type":"Polygon","coordinates":[[[363,824],[389,815],[363,803],[337,813],[363,824]]]},
{"v":23,"type":"Polygon","coordinates":[[[337,831],[363,824],[337,813],[311,821],[337,831]]]},
{"v":24,"type":"Polygon","coordinates":[[[312,836],[337,831],[311,821],[286,828],[312,836]]]},
{"v":26,"type":"Polygon","coordinates":[[[286,840],[312,836],[286,828],[260,832],[286,840]]]},
{"v":28,"type":"Polygon","coordinates":[[[260,842],[286,840],[260,832],[234,835],[260,842]]]},
{"v":30,"type":"Polygon","coordinates":[[[518,774],[544,757],[518,743],[492,761],[518,774]]]},
{"v":27,"type":"Polygon","coordinates":[[[492,790],[518,774],[492,761],[466,777],[492,790]]]},
{"v":25,"type":"Polygon","coordinates":[[[466,803],[492,790],[466,777],[441,792],[466,803]]]},
{"v":23,"type":"Polygon","coordinates":[[[441,814],[466,803],[441,792],[415,804],[441,814]]]},
{"v":22,"type":"Polygon","coordinates":[[[415,824],[441,814],[415,804],[389,815],[415,824]]]},
{"v":22,"type":"Polygon","coordinates":[[[389,832],[415,824],[389,815],[363,824],[389,832]]]},
{"v":22,"type":"Polygon","coordinates":[[[363,838],[389,832],[363,824],[337,831],[363,838]]]},
{"v":23,"type":"Polygon","coordinates":[[[338,843],[363,838],[337,831],[312,836],[338,843]]]},
{"v":25,"type":"Polygon","coordinates":[[[312,845],[338,843],[312,836],[286,840],[312,845]]]},
{"v":27,"type":"Polygon","coordinates":[[[286,846],[312,845],[286,840],[260,842],[286,846]]]},
{"v":30,"type":"Polygon","coordinates":[[[544,785],[569,769],[544,757],[518,774],[544,785]]]},
{"v":27,"type":"Polygon","coordinates":[[[518,799],[544,785],[518,774],[492,790],[518,799]]]},
{"v":25,"type":"Polygon","coordinates":[[[492,812],[518,799],[492,790],[466,803],[492,812]]]},
{"v":23,"type":"Polygon","coordinates":[[[466,822],[492,812],[466,803],[441,814],[466,822]]]},
{"v":22,"type":"Polygon","coordinates":[[[441,831],[466,822],[441,814],[415,824],[441,831]]]},
{"v":22,"type":"Polygon","coordinates":[[[415,838],[441,831],[415,824],[389,832],[415,838]]]},
{"v":22,"type":"Polygon","coordinates":[[[389,843],[415,838],[389,832],[363,838],[389,843]]]},
{"v":23,"type":"Polygon","coordinates":[[[363,846],[389,843],[363,838],[338,843],[363,846]]]},
{"v":24,"type":"Polygon","coordinates":[[[338,848],[363,846],[338,843],[312,845],[338,848]]]},
{"v":26,"type":"Polygon","coordinates":[[[312,847],[338,848],[312,845],[286,846],[312,847]]]},
{"v":31,"type":"Polygon","coordinates":[[[569,793],[595,778],[569,769],[544,785],[569,793]]]},
{"v":28,"type":"Polygon","coordinates":[[[544,807],[569,793],[544,785],[518,799],[544,807]]]},
{"v":26,"type":"Polygon","coordinates":[[[518,818],[544,807],[518,799],[492,812],[518,818]]]},
{"v":24,"type":"Polygon","coordinates":[[[492,828],[518,818],[492,812],[466,822],[492,828]]]},
{"v":23,"type":"Polygon","coordinates":[[[467,836],[492,828],[466,822],[441,831],[467,836]]]},
{"v":23,"type":"Polygon","coordinates":[[[441,841],[467,836],[441,831],[415,838],[441,841]]]},
{"v":23,"type":"Polygon","coordinates":[[[415,845],[441,841],[415,838],[389,843],[415,845]]]},
{"v":23,"type":"Polygon","coordinates":[[[389,847],[415,845],[389,843],[363,846],[389,847]]]},
{"v":24,"type":"Polygon","coordinates":[[[364,848],[389,847],[363,846],[338,848],[364,848]]]},
{"v":25,"type":"Polygon","coordinates":[[[338,846],[364,848],[338,848],[312,847],[338,846]]]}
]},"mark":{"type":"geoshape","strokeWidth":0.6},"projection":{"type":"identity","scale":1,"translate":[0,0]},"encoding":{"fill":{"field":"v","type":"quantitative","legend":null,"scale":{"domain":[22,26,30,35,40,46,52,58,62,68,75,83],"range":["#30d0ff","#30f0ff","#30fff0","#30ffb8","#30ff88","#30f848","#68f848","#b8f848","#e8f848","#fff848","#ffc848","#ff8848"]}},"stroke":{"field":"v","type":"quantitative","legend":null,"scale":{"domain":[22,26,30,35,40,46,52,58,62,68,75,83],"range":["#30d0ff","#30f0ff","#30fff0","#30ffb8","#30ff88","#30f848","#68f848","#b8f848","#e8f848","#fff848","#ffc848","#ff8848"]}}}},
{"data":{"name":"grid"},"mark":{"type":"line","interpolate":"natural","color":"#14302a","strokeWidth":0.75,"opacity":0.8},"encoding":{"x":{"field":"x","type":"quantitative","scale":{"domain":[0,639],"nice":false,"zero":false},"axis":null},"y":{"field":"y","type":"quantitative","scale":{"domain":[1101,0],"nice":false,"zero":false},"axis":null},"detail":{"field":"l"},"order":{"value":1}}},
{"data":{"name":"ticks"},"mark":{"type":"point","filled":true,"color":"#000000","size":24,"opacity":1},"encoding":{"x":{"field":"x","type":"quantitative","scale":{"domain":[0,639],"nice":false,"zero":false},"axis":null},"y":{"field":"y","type":"quantitative","scale":{"domain":[1101,0],"nice":false,"zero":false},"axis":null}}},
{"data":{"name":"dots"},"mark":{"type":"point","filled":true,"size":105,"opacity":1,"stroke":"#8a1a1a","strokeWidth":1.2},"encoding":{"x":{"field":"x","type":"quantitative","scale":{"domain":[0,639],"nice":false,"zero":false},"axis":null},"y":{"field":"y","type":"quantitative","scale":{"domain":[1101,0],"nice":false,"zero":false},"axis":null},"fill":{"field":"k","type":"nominal","legend":null,"scale":{"domain":["low","high","centre"],"range":["#f7c6c6","#b80000","#ffffff"]}}}},
{"data":{"values":[
{"x":57,"y":60,"t":"100"},{"x":64,"y":104,"t":"80"},{"x":67,"y":150,"t":"60"},{"x":69,"y":194,"t":"40"},{"x":72,"y":239,"t":"20"},{"x":78,"y":284,"t":"0"},
{"x":82,"y":375,"t":"2"},{"x":118,"y":399,"t":"1.7"},{"x":159,"y":425,"t":"1.4"},{"x":198,"y":449,"t":"1.1"},{"x":239,"y":474,"t":"0.8"},{"x":279,"y":499,"t":"0.5"},
{"x":311,"y":499,"t":"5"},{"x":358,"y":477,"t":"7"},{"x":403,"y":453,"t":"9"},{"x":453,"y":431,"t":"11"},{"x":499,"y":408,"t":"13"},{"x":546,"y":385,"t":"15"}
]},"mark":{"type":"text","font":"Open Sans","fontSize":14,"color":"#444444","align":"center","baseline":"middle"},"encoding":{"x":{"field":"x","type":"quantitative","scale":{"domain":[0,639],"nice":false,"zero":false},"axis":null},"y":{"field":"y","type":"quantitative","scale":{"domain":[1101,0],"nice":false,"zero":false},"axis":null},"text":{"field":"t"}}},
{"data":{"values":[
{"x":54,"y":611,"t":"100"},{"x":61,"y":663,"t":"80"},{"x":63,"y":715,"t":"60"},{"x":66,"y":767,"t":"40"},{"x":68,"y":819,"t":"20"},{"x":73,"y":871,"t":"0"},
{"x":75,"y":970,"t":"10"},{"x":119,"y":990,"t":"9"},{"x":161,"y":1010,"t":"8"},{"x":202,"y":1030,"t":"7"},{"x":244,"y":1051,"t":"6"},{"x":286,"y":1070,"t":"5"},{"x":327,"y":1090,"t":"4"},
{"x":349,"y":1090,"t":"5"},{"x":402,"y":1066,"t":"15"},{"x":452,"y":1042,"t":"25"},{"x":501,"y":1018,"t":"35"},{"x":551,"y":994,"t":"45"},{"x":602,"y":970,"t":"55"}
]},"mark":{"type":"text","font":"Open Sans","fontSize":13,"color":"#444444","align":"center","baseline":"middle"},"encoding":{"x":{"field":"x","type":"quantitative","scale":{"domain":[0,639],"nice":false,"zero":false},"axis":null},"y":{"field":"y","type":"quantitative","scale":{"domain":[1101,0],"nice":false,"zero":false},"axis":null},"text":{"field":"t"}}},
{"data":{"values":[{"x":172,"y":1053,"t":"pH"},{"x":532,"y":1060,"t":"Time (min)"}]},"mark":{"type":"text","font":"Open Sans","fontSize":14.5,"color":"#444444","align":"center","baseline":"middle"},"encoding":{"x":{"field":"x","type":"quantitative","scale":{"domain":[0,639],"nice":false,"zero":false},"axis":null},"y":{"field":"y","type":"quantitative","scale":{"domain":[1101,0],"nice":false,"zero":false},"axis":null},"text":{"field":"t"}}},
{"data":{"values":[{"x":25,"y":773,"t":"Removal (%)"}]},"mark":{"type":"text","font":"Open Sans","fontSize":14.5,"color":"#444444","align":"center","baseline":"middle","angle":270},"encoding":{"x":{"field":"x","type":"quantitative","scale":{"domain":[0,639],"nice":false,"zero":false},"axis":null},"y":{"field":"y","type":"quantitative","scale":{"domain":[1101,0],"nice":false,"zero":false},"axis":null},"text":{"field":"t"}}},
{"data":{"values":[{"x":148,"y":472,"t":"Dose (g/L)"},{"x":489,"y":469,"t":"Conc. (mg/L)"}]},"mark":{"type":"text","font":"Liberation Serif","fontSize":21,"color":"#222222","align":"center","baseline":"middle"},"encoding":{"x":{"field":"x","type":"quantitative","scale":{"domain":[0,639],"nice":false,"zero":false},"axis":null},"y":{"field":"y","type":"quantitative","scale":{"domain":[1101,0],"nice":false,"zero":false},"axis":null},"text":{"field":"t"}}},
{"data":{"values":[{"x":27,"y":223,"t":"Removal (%)"}]},"mark":{"type":"text","font":"Liberation Serif","fontSize":21.5,"color":"#222222","align":"center","baseline":"middle","angle":270},"encoding":{"x":{"field":"x","type":"quantitative","scale":{"domain":[0,639],"nice":false,"zero":false},"axis":null},"y":{"field":"y","type":"quantitative","scale":{"domain":[1101,0],"nice":false,"zero":false},"axis":null},"text":{"field":"t"}}},
{"data":{"values":[{"x":612,"y":46,"t":"a"}]},"mark":{"type":"text","font":"Liberation Serif","fontWeight":"bold","fontSize":42,"color":"#000000","align":"center","baseline":"middle"},"encoding":{"x":{"field":"x","type":"quantitative","scale":{"domain":[0,639],"nice":false,"zero":false},"axis":null},"y":{"field":"y","type":"quantitative","scale":{"domain":[1101,0],"nice":false,"zero":false},"axis":null},"text":{"field":"t"}}},
{"data":{"values":[{"x":623,"y":577,"t":"b"}]},"mark":{"type":"text","font":"Liberation Serif","fontWeight":"bold","fontSize":32,"color":"#000000","align":"center","baseline":"middle"},"encoding":{"x":{"field":"x","type":"quantitative","scale":{"domain":[0,639],"nice":false,"zero":false},"axis":null},"y":{"field":"y","type":"quantitative","scale":{"domain":[1101,0],"nice":false,"zero":false},"axis":null},"text":{"field":"t"}}}
]}
